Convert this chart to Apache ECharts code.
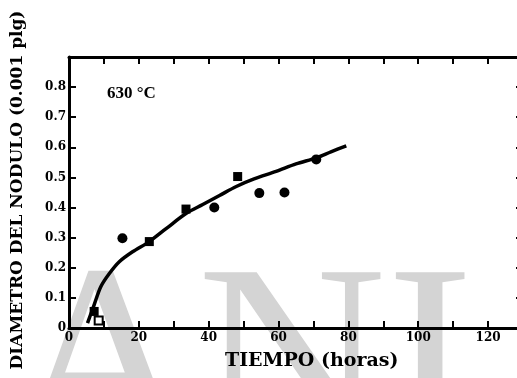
<!DOCTYPE html>
<html>
<head>
<meta charset="utf-8">
<script src="https://cdn.jsdelivr.net/npm/echarts@6/dist/echarts.min.js"></script>
<style>
  html, body { margin: 0; padding: 0; background: #fff; }
  #chart { width: 517px; height: 378px; }
</style>
</head>
<body>
<div id="chart"></div>
<script>
// fitted curve (t in horas, d in 0.001 plg)
var curveT = [5.3, 7.2, 9.1, 11.5, 14.4, 18.2, 23, 27.8, 33.5, 38.3, 43.1, 47.9, 53, 59.3, 65, 70.8, 75, 79.4];
var curveD = [0.016, 0.077, 0.137, 0.18, 0.22, 0.253, 0.287, 0.33, 0.38, 0.41, 0.44, 0.47, 0.495, 0.52, 0.545, 0.565, 0.585, 0.605];

// measured points
var circleT = [15.3, 41.6, 54.5, 61.7, 70.8];
var circleD = [0.298, 0.40, 0.448, 0.45, 0.56];
var squareT = [7.2, 23, 33.5, 48.3];
var squareD = [0.055, 0.287, 0.395, 0.503];
var openSquareT = [8.5];
var openSquareD = [0.025];

var xTickLabels = ['0', '20', '40', '60', '80', '100', '120'];
var yTickLabels = ['0', '0.1', '0.2', '0.3', '0.4', '0.5', '0.6', '0.7', '0.8'];

var SERIF = '"DejaVu Serif", "Liberation Serif", serif';
var TIMES = '"Liberation Serif", serif';

function pairs(xs, ys) {
    return xs.map(function (x, i) { return [x, ys[i]]; });
}

function frameAxis(extra) {
    var base = {
        axisLine: { show: true, onZero: false, lineStyle: { color: '#000', width: 3 } },
        axisTick: { show: true, inside: true, length: 7, lineStyle: { color: '#000', width: 2 } },
        splitLine: { show: false }
    };
    return Object.assign(base, extra);
}

function createChartOptions() {
    return {
        animation: false,
        backgroundColor: '#fff',
        // right edge of the frame sits just past the picture
        grid: { left: 69, width: 454, top: 57, height: 271, outerBoundsMode: 'none' },
        graphic: [
            {
                // grey watermark letters behind the plot
                type: 'text',
                left: 8,
                top: 244,
                z: -10,
                silent: true,
                style: {
                    text: 'ANI',
                    font: '262px ' + TIMES,
                    fill: '#d4d4d4'
                }
            },
            {
                type: 'text',
                left: 107,
                top: 85,
                style: {
                    text: '630 °C',
                    font: 'bold 17px ' + TIMES,
                    fill: '#000'
                }
            },
            {
                type: 'text',
                left: 225,
                top: 352,
                style: {
                    text: 'TIEMPO (horas)',
                    font: 'bold 19px ' + SERIF,
                    fill: '#000'
                }
            },
            {
                type: 'text',
                x: 18,
                y: 190,
                rotation: Math.PI / 2,
                style: {
                    text: 'DIAMETRO DEL NODULO (0.001 plg)',
                    font: 'bold 17px ' + SERIF,
                    fill: '#000',
                    align: 'center',
                    verticalAlign: 'middle'
                }
            }
        ],
        xAxis: [
            frameAxis({
                type: 'value',
                position: 'bottom',
                min: 0,
                max: 130,
                interval: 10,
                axisLabel: {
                    color: '#000',
                    fontFamily: SERIF,
                    fontWeight: 'bold',
                    fontSize: 12,
                    margin: 4,
                    formatter: function (v) {
                        return v % 20 === 0 && v <= 120 ? xTickLabels[v / 20] : '';
                    }
                }
            }),
            frameAxis({
                type: 'value',
                position: 'top',
                min: 0,
                max: 130,
                interval: 10,
                axisLabel: { show: false }
            })
        ],
        yAxis: [
            frameAxis({
                type: 'value',
                position: 'left',
                min: 0,
                max: 0.9,
                interval: 0.1,
                axisLabel: {
                    color: '#000',
                    fontFamily: SERIF,
                    fontWeight: 'bold',
                    fontSize: 12,
                    margin: 3,
                    formatter: function (v) {
                        var i = Math.round(v * 10);
                        return i < yTickLabels.length ? yTickLabels[i] : '';
                    }
                }
            }),
            frameAxis({
                type: 'value',
                position: 'right',
                min: 0,
                max: 0.9,
                interval: 0.1,
                axisLabel: { show: false }
            })
        ],
        series: [
            {
                type: 'line',
                data: pairs(curveT, curveD),
                smooth: 0.3,
                showSymbol: false,
                lineStyle: { color: '#000', width: 3.5 }
            },
            {
                type: 'scatter',
                data: pairs(circleT, circleD),
                symbol: 'circle',
                symbolSize: 10,
                itemStyle: { color: '#000', opacity: 1 }
            },
            {
                type: 'scatter',
                data: pairs(squareT, squareD),
                symbol: 'rect',
                symbolSize: 9,
                itemStyle: { color: '#000', opacity: 1 }
            },
            {
                type: 'scatter',
                data: pairs(openSquareT, openSquareD),
                symbol: 'rect',
                symbolSize: 8,
                itemStyle: { color: '#fff', borderColor: '#000', borderWidth: 2, opacity: 1 }
            }
        ]
    };
}

function initializeChart(elementId) {
    var chartDom = document.getElementById(elementId);
    var myChart = echarts.init(chartDom, null, { renderer: 'canvas' });
    myChart.setOption(createChartOptions());
    return myChart;
}

initializeChart('chart');
</script>
</body>
</html>
